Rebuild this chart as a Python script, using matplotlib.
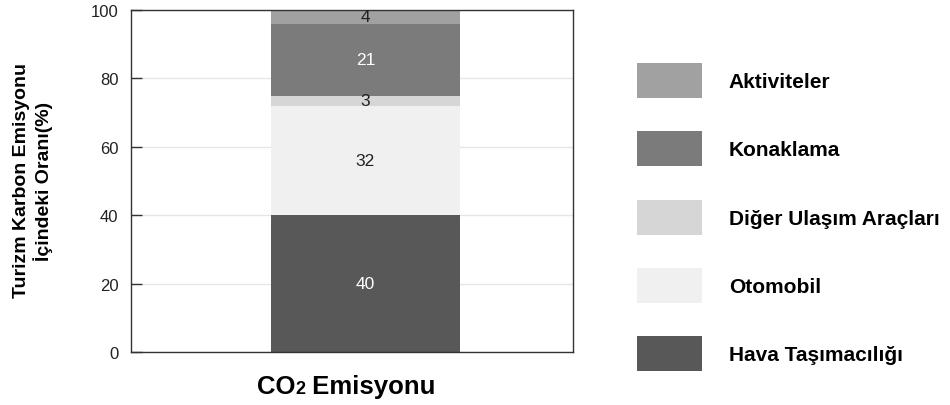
import matplotlib
matplotlib.use("Agg")
import matplotlib.pyplot as plt
from matplotlib.offsetbox import TextArea, HPacker, AnchoredOffsetbox

plt.rcParams['font.family'] = ['Liberation Sans', 'DejaVu Sans']

# data: bottom to top
categories = ['Hava Taşımacılığı', 'Otomobil', 'Diğer Ulaşım Araçları', 'Konaklama', 'Aktiviteler']
shares = [40, 32, 3, 21, 4]
colors = ['#585858', '#f0f0f0', '#d6d6d6', '#7b7b7b', '#a1a1a1']
text_colors = ['white', '#222222', '#222222', 'white', '#222222']
yticks = [0, 20, 40, 60, 80, 100]

fig = plt.figure(figsize=(9.5, 4.06), dpi=100)
ax = fig.add_axes([131/950, 1 - 353/406, 442/950, 342/406])

bottom = 0
bars = []
for cat, val, col, tc in zip(categories, shares, colors, text_colors):
    b = ax.bar(0, val, width=0.6, bottom=bottom, color=col, label=cat, zorder=2)
    bars.append(b)
    ax.text(0, bottom + val / 2, str(val), ha='center', va='center', fontsize=12.5, color=tc, zorder=3)
    bottom += val

ax.set_xlim(-0.744, 0.659)
ax.set_ylim(0, 100)
ax.set_yticks(yticks)
ax.set_xticks([])
ax.tick_params(axis='y', direction='in', length=8, width=1, color='#333333',
               pad=9, labelsize=12, labelcolor='#222222')
ax.yaxis.grid(True, color='#e6e6e6', linewidth=1, zorder=0)
for s in ax.spines.values():
    s.set_color('#333333')
    s.set_linewidth(1)

# y label (two lines, bold)
fig.text(33/950, 1 - 181/406, 'Turizm Karbon Emisyonu\nİçindeki Oranı(%)', rotation=90,
         ha='center', va='center', fontsize=14, fontweight='bold', linespacing=1.2)

# x label "CO2 Emisyonu" with small 2 on the baseline
parts = [TextArea('CO', textprops=dict(fontsize=18.5, fontweight='bold')),
         TextArea('2', textprops=dict(fontsize=13, fontweight='bold')),
         TextArea(' Emisyonu', textprops=dict(fontsize=18.5, fontweight='bold'))]
pack = HPacker(children=parts, align='baseline', pad=0, sep=0)
abox = AnchoredOffsetbox(loc='center', child=pack, frameon=False, pad=0, borderpad=0,
                         bbox_to_anchor=(346/950, 1 - 387/406), bbox_transform=fig.transFigure)
fig.add_artist(abox)

handles = bars[::-1]
labels = categories[::-1]
fig.legend(handles, labels, loc='upper left', bbox_to_anchor=(637/950, 1 - 64/406),
           frameon=False, prop={'weight': 'bold', 'size': 15},
           handlelength=3.1, handleheight=2.21, labelspacing=1.6, handletextpad=1.3,
           borderpad=0, borderaxespad=0)

fig.savefig('out.png', dpi=100)
